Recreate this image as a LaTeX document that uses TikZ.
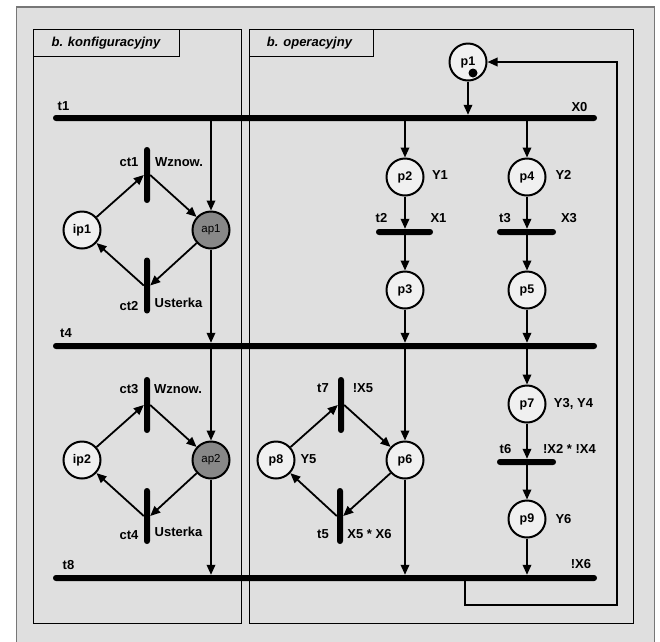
\documentclass[tikz,border=0pt]{standalone}
\usepackage{fontspec}
\setmainfont{Liberation Sans}
\usetikzlibrary{arrows.meta}
\definecolor{bgray}{HTML}{DFDFDF}
\definecolor{nfill}{HTML}{F0F0F0}
\definecolor{afill}{HTML}{888888}
\definecolor{oframe}{HTML}{777777}
\tikzset{
  place/.style={circle,draw,line width=2pt,fill=nfill,minimum size=37pt,inner sep=0pt,font=\fontsize{12.5}{13}\selectfont\bfseries},
  aplace/.style={place,fill=afill,font=\fontsize{11.5}{12}\selectfont},
  hbar/.style={rectangle,fill=black,rounded corners=2.9pt,minimum height=6pt,inner sep=0pt},
  vbar/.style={rectangle,fill=black,rounded corners=2.9pt,minimum width=6pt,minimum height=56pt,inner sep=0pt},
  lbl/.style={font=\fontsize{13}{14}\selectfont\bfseries,inner sep=0pt},
  hdr/.style={font=\fontsize{13}{14}\selectfont\bfseries\itshape,inner sep=0pt},
  arr/.style={line width=1.8pt,-{Triangle[length=10pt,width=8.5pt]}},
  token/.style={circle,fill=black,minimum size=9pt,inner sep=0pt},
  panel/.style={draw=black,line width=1pt,fill=bgray}
}
\begin{document}
\begin{tikzpicture}[x=1pt,y=-1pt]
\useasboundingbox (0,0) rectangle (660,641);
\fill[white] (0,0) rectangle (660,641);
\draw[oframe,line width=1.4pt,fill=bgray] (16.5,650) -- (16.5,7) -- (654.5,7) -- (654.5,650);
% panels
\draw[panel] (33,29) rectangle (241,623);
\draw[panel] (249,29) rectangle (633,623);
\draw[panel] (33,29) rectangle (179,56);
\draw[panel] (249,29) rectangle (373,56);
\node[hdr] (h1) at (106,43) {b. konfiguracyjny};
\node[hdr] (h2) at (309.5,43) {b. operacyjny};
% horizontal transitions
\node[hbar,minimum width=544pt] (t1) at (325,118) {};
\node[hbar,minimum width=544pt] (t4) at (325,346) {};
\node[hbar,minimum width=544pt] (t8) at (325,578) {};
\node[hbar,minimum width=57pt] (t2) at (404.5,232) {};
\node[hbar,minimum width=59pt] (t3) at (526.5,232) {};
\node[hbar,minimum width=59pt] (t6) at (526.5,462) {};
% vertical transitions
\node[vbar] (ct1) at (147,175) {};
\node[vbar] (ct2) at (147,285.5) {};
\node[vbar] (ct3) at (147,405) {};
\node[vbar] (ct4) at (147,516) {};
\node[vbar] (t7) at (341,405) {};
\node[vbar] (t5) at (340,516) {};
% places
\node[place] (p1) at (468,62) {p1};
\node[token] (tok) at (473,73) {};
\node[place] (p2) at (405,177) {p2};
\node[place] (p4) at (527,177) {p4};
\node[place] (p3) at (405,290) {p3};
\node[place] (p5) at (527,290) {p5};
\node[place] (p7) at (527,404) {p7};
\node[place] (p9) at (527,519) {p9};
\node[place] (p6) at (405,460) {p6};
\node[place] (p8) at (276,460) {p8};
\node[place] (ip1) at (82,230) {ip1};
\node[aplace] (ap1) at (211,230) {ap1};
\node[place] (ip2) at (82,460) {ip2};
\node[aplace] (ap2) at (211,460) {ap2};
% labels
\node[lbl] (lt1) at (63.5,106) {t1};
\node[lbl] (lt4) at (66,333) {t4};
\node[lbl] (lt8) at (68.5,565) {t8};
\node[lbl] (lx0) at (579.5,107) {X0};
\node[lbl] (lx6) at (581,564) {!X6};
\node[lbl] (ly1) at (440,175) {Y1};
\node[lbl] (ly2) at (563.5,175) {Y2};
\node[lbl] (lt2) at (381.5,218) {t2};
\node[lbl] (lx1) at (438.5,218) {X1};
\node[lbl] (lt3) at (505,218) {t3};
\node[lbl] (lx3) at (569,218) {X3};
\node[lbl] (ly34) at (573.5,404) {Y3, Y4};
\node[lbl] (lt6) at (505.5,449) {t6};
\node[lbl] (lx24) at (569.5,449) {!X2 * !X4};
\node[lbl] (ly6) at (563.5,519) {Y6};
\node[lbl] (lt5) at (323,534) {t5};
\node[lbl] (lx56) at (369.5,534) {X5 * X6};
\node[lbl] (lt7) at (323,388) {t7};
\node[lbl] (lx5) at (363,388) {!X5};
\node[lbl] (ly5) at (308.5,459) {Y5};
\node[lbl] (lct1) at (129,162) {ct1};
\node[lbl] (lw1) at (179,162) {Wznow.};
\node[lbl] (lct2) at (129,306) {ct2};
\node[lbl] (lu1) at (178.5,303) {Usterka};
\node[lbl] (lct3) at (129,389) {ct3};
\node[lbl] (lw2) at (178,389) {Wznow.};
\node[lbl] (lct4) at (129,535) {ct4};
\node[lbl] (lu2) at (178.5,532) {Usterka};
% arcs operational
\draw[arr] (p1.south) -- (p1 |- t1.north);
\draw[arr] (p2 |- t1.south) -- (p2.north);
\draw[arr] (p4 |- t1.south) -- (p4.north);
\draw[arr] (p2.south) -- (p2 |- t2.north);
\draw[arr] (p2 |- t2.south) -- (p3.north);
\draw[arr] (p4.south) -- (p4 |- t3.north);
\draw[arr] (p4 |- t3.south) -- (p5.north);
\draw[arr] (p3.south) -- (p3 |- t4.north);
\draw[arr] (p5.south) -- (p5 |- t4.north);
\draw[arr] (p6 |- t4.south) -- (p6.north);
\draw[arr] (p7 |- t4.south) -- (p7.north);
\draw[arr] (p7.south) -- (p7 |- t6.north);
\draw[arr] (p7 |- t6.south) -- (p9.north);
\draw[arr] (p9.south) -- (p9 |- t8.north);
\draw[arr] (p6.south) -- (p6 |- t8.north);
\draw[arr] (p8) -- (t7.west);
\draw[arr] (t7.east) -- (p6);
\draw[arr] (p6) -- (t5.east);
\draw[arr] (t5.west) -- (p8);
% arcs configuration
\draw[arr] (ap1 |- t1.south) -- (ap1.north);
\draw[arr] (ap1.south) -- (ap1 |- t4.north);
\draw[arr] (ap2 |- t4.south) -- (ap2.north);
\draw[arr] (ap2.south) -- (ap2 |- t8.north);
\draw[arr] (ip1) -- (ct1.west);
\draw[arr] (ct1.east) -- (ap1);
\draw[arr] (ap1) -- (ct2.east);
\draw[arr] (ct2.west) -- (ip1);
\draw[arr] (ip2) -- (ct3.west);
\draw[arr] (ct3.east) -- (ap2);
\draw[arr] (ap2) -- (ct4.east);
\draw[arr] (ct4.west) -- (ip2);
% return loop
\coordinate (r1) at (465,605);
\coordinate (r2) at (617,605);
\draw[arr] (r1 |- t8.south) -- (r1) -- (r2) -- (r2 |- p1) -- (p1);
\end{tikzpicture}
\end{document}
